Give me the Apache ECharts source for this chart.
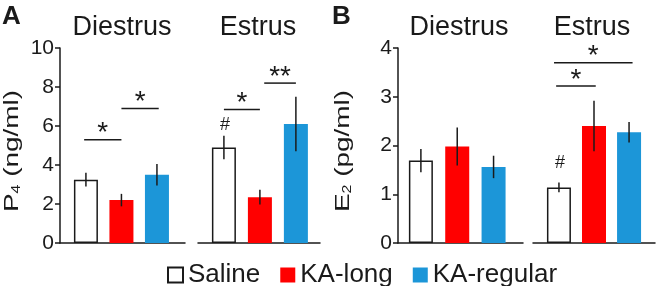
<!DOCTYPE html>
<html>
<head>
<meta charset="utf-8">
<script src="https://cdn.jsdelivr.net/npm/echarts@6/dist/echarts.min.js"></script>
<style>
html, body { margin: 0; padding: 0; background: #fff; }
#chart { width: 656px; height: 286px; }
</style>
</head>
<body>
<div id="chart"></div>
<script>
// groups and colours
const groups = ['Saline', 'KA-long', 'KA-regular']
const groupColors = ['#ffffff', '#ff0000', '#1c96d8']

// A: P4 (ng/ml), mean and SEM
const p4Ticks = [0, 10, 2]
const p4Diestrus = [3.25, 2.2, 3.5]
const p4DiestrusErr = [0.35, 0.32, 0.55]
const p4Estrus = [4.9, 2.35, 6.1]
const p4EstrusErr = [0.6, 0.38, 1.4]
// [from bar, to bar, height, mark]
const p4DiestrusSig = [[-0.05, 1, 5.3, '*'], [1, 2.05, 6.9, '*']]
const p4EstrusSig = [[0, 1, 6.85, '*'], [1.12, 2, 8.2, '**']]
// [bar, height]
const p4EstrusHash = [[0, 6.05]]

// B: E2 (pg/ml), mean and SEM
const e2Ticks = [0, 4, 1]
const e2Diestrus = [1.69, 1.98, 1.56]
const e2DiestrusErr = [0.24, 0.39, 0.23]
const e2Estrus = [1.14, 2.4, 2.27]
const e2EstrusErr = [0.1, 0.52, 0.21]
const e2DiestrusSig = []
const e2EstrusSig = [[-0.08, 1.05, 3.22, '*'], [-0.14, 2.1, 3.7, '*']]
const e2EstrusHash = [[0, 1.65]]

const FONT = 'Liberation Sans, Arial, sans-serif'
const INK = '#1a1a1a'

const chart = echarts.init(document.getElementById('chart'))

// four little plots: A diestrus, A estrus, B diestrus, B estrus
const panels = [
  { means: p4Diestrus, errs: p4DiestrusErr, sig: p4DiestrusSig, hash: [], ticks: p4Ticks, left: 60, width: 125, xmin: -0.73, xmax: 2.79, axis: true },
  { means: p4Estrus, errs: p4EstrusErr, sig: p4EstrusSig, hash: p4EstrusHash, ticks: p4Ticks, left: 198, width: 122, xmin: -0.72, xmax: 2.67, axis: false },
  { means: e2Diestrus, errs: e2DiestrusErr, sig: e2DiestrusSig, hash: [], ticks: e2Ticks, left: 398, width: 125, xmin: -0.63, xmax: 2.81, axis: true },
  { means: e2Estrus, errs: e2EstrusErr, sig: e2EstrusSig, hash: e2EstrusHash, ticks: e2Ticks, left: 533, width: 122, xmin: -0.74, xmax: 2.74, axis: false }
]

const grid = panels.map(p => ({ left: p.left, width: p.width, top: 48, bottom: 43 }))

const xAxis = panels.map((p, i) => ({
  type: 'value', gridIndex: i, min: p.xmin, max: p.xmax,
  axisLine: { show: true, onZero: false, lineStyle: { color: INK, width: 1.5 } },
  axisTick: { show: false }, axisLabel: { show: false }, splitLine: { show: false }
}))

const yAxis = panels.map((p, i) => ({
  type: 'value', gridIndex: i, min: p.ticks[0], max: p.ticks[1], interval: p.ticks[2],
  show: p.axis,
  axisLine: { show: true, onZero: false, lineStyle: { color: INK, width: 1.5 } },
  axisTick: { show: true, length: 5, lineStyle: { color: INK, width: 1.5 } },
  axisLabel: { fontFamily: FONT, fontSize: 21, color: INK, margin: 6 },
  splitLine: { show: false }
}))

const series = []
panels.forEach((p, i) => {
  groups.forEach((g, k) => {
    series.push({
      type: 'bar', name: g, xAxisIndex: i, yAxisIndex: i,
      barWidth: 24, barGap: '-100%',
      data: [[k, p.means[k]]],
      itemStyle: k === 0
        ? { color: groupColors[k], borderColor: INK, borderWidth: 1.5 }
        : { color: groupColors[k] }
    })
  })
  // error bars
  series.push({
    type: 'custom', xAxisIndex: i, yAxisIndex: i, z: 10, silent: true,
    data: p.means.map((m, k) => [k, m - p.errs[k], m + p.errs[k]]),
    renderItem: (params, api) => {
      const lo = api.coord([api.value(0), api.value(1)])
      const hi = api.coord([api.value(0), api.value(2)])
      return { type: 'line', shape: { x1: lo[0], y1: lo[1], x2: hi[0], y2: hi[1] }, style: { stroke: INK, lineWidth: 1.5 } }
    }
  })
  // significance lines with stars
  if (p.sig.length) {
    series.push({
      type: 'custom', xAxisIndex: i, yAxisIndex: i, z: 10, silent: true,
      data: p.sig.map(s => [s[0], s[2], s[1]]),
      renderItem: (params, api) => {
        const a = api.coord([api.value(0), api.value(1)])
        const b = api.coord([api.value(2), api.value(1)])
        return {
          type: 'group', children: [
            { type: 'line', shape: { x1: a[0], y1: a[1], x2: b[0], y2: b[1] }, style: { stroke: INK, lineWidth: 1.5 } },
            { type: 'text', x: (a[0] + b[0]) / 2, y: a[1] + 8, style: { text: p.sig[params.dataIndex][3], font: '28px ' + FONT, fill: INK, align: 'center', verticalAlign: 'bottom' } }
          ]
        }
      }
    })
  }
  // hash above the saline bar
  if (p.hash.length) {
    series.push({
      type: 'custom', xAxisIndex: i, yAxisIndex: i, z: 10, silent: true,
      data: p.hash,
      renderItem: (params, api) => {
        const c = api.coord([api.value(0), api.value(1)])
        return { type: 'text', x: c[0] + 1, y: c[1], style: { text: '#', font: '18px ' + FONT, fill: INK, align: 'center', verticalAlign: 'middle' } }
      }
    })
  }
})

const titles = [['Diestrus', 122], ['Estrus', 258], ['Diestrus', 459], ['Estrus', 592]]
const graphic = titles.map(t => ({
  type: 'text', x: t[1], y: 14,
  style: { text: t[0], font: '27px ' + FONT, fill: INK, align: 'center', verticalAlign: 'top' }
}))
graphic.push({ type: 'text', x: 2, y: 4, style: { text: 'A', font: 'bold 26px ' + FONT, fill: INK } })
graphic.push({ type: 'text', x: 332, y: 4, style: { text: 'B', font: 'bold 26px ' + FONT, fill: INK } })

// y axis titles, drawn upright then turned, a little stretched like the original
const nameRich = {
  a: { fontFamily: FONT, fontSize: 21, fill: INK, verticalAlign: 'bottom' },
  s: { fontFamily: FONT, fontSize: 12, fill: INK, verticalAlign: 'bottom' }
}
const axisNames = [['{a|P}{s|4}{a| (ng/ml)}', 12], ['{a|E}{s|2}{a| (pg/ml)}', 343]]
axisNames.forEach(n => {
  graphic.push({
    type: 'text', x: n[1], y: 151, rotation: Math.PI / 2, scaleX: 1.33,
    style: { text: n[0], rich: nameRich, align: 'center', verticalAlign: 'middle' }
  })
})

chart.setOption({
  animation: false,
  backgroundColor: '#fff',
  grid, xAxis, yAxis, series, graphic,
  legend: {
    data: groups, left: 162, top: 257, icon: 'rect',
    itemWidth: 15, itemHeight: 15, itemGap: 20,
    textStyle: { fontFamily: FONT, fontSize: 26, color: INK }
  }
})
</script>
</body>
</html>
